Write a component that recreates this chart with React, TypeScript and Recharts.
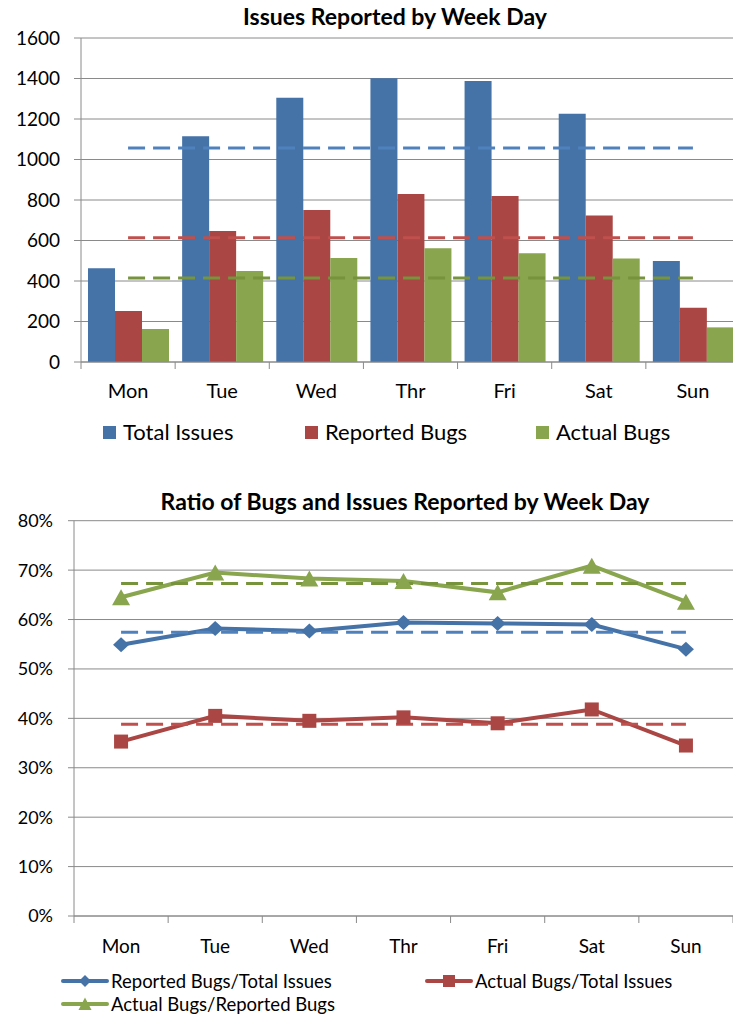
import React from 'react';
import { ComposedChart, Bar, Line, XAxis, YAxis, CartesianGrid, Legend } from 'recharts';

// ---------- data ----------
const days = ['Mon', 'Tue', 'Wed', 'Thr', 'Fri', 'Sat', 'Sun'];
const totalIssues = [463, 1115, 1305, 1401, 1388, 1226, 499];
const reportedBugs = [252, 647, 751, 830, 820, 723, 268];
const actualBugs = [163, 450, 514, 562, 537, 511, 171];
const avgTotalIssues = 1057;
const avgReportedBugs = 613;
const avgActualBugs = 415;
const countTicks = [0, 200, 400, 600, 800, 1000, 1200, 1400, 1600];

const reportedPerTotal = [54.9, 58.2, 57.7, 59.4, 59.2, 59.0, 54.0];
const actualPerTotal = [35.3, 40.5, 39.5, 40.2, 39.0, 41.8, 34.5];
const actualPerReported = [64.5, 69.5, 68.3, 67.8, 65.5, 70.9, 63.6];
const avgReportedPerTotal = 57.4;
const avgActualPerTotal = 38.8;
const avgActualPerReported = 67.3;
const percentTicks = [0, 10, 20, 30, 40, 50, 60, 70, 80];

// ---------- styles ----------
const FONT = "Lato, 'Open Sans', sans-serif";
const GRID = '#8a8a8a';
const BLUE = '#4572A7';
const RED = '#AA4643';
const GREEN = '#89A54E';
const BLUE_D = '#4F81BD';
const RED_D = '#C0504D';
const GREEN_D = '#77933C';

const topData = days.map((day, i) => ({
  day,
  total: totalIssues[i],
  reported: reportedBugs[i],
  actual: actualBugs[i],
  avgTotal: avgTotalIssues,
  avgReported: avgReportedBugs,
  avgActual: avgActualBugs,
}));

const botData = days.map((day, i) => ({
  day,
  rpt: reportedPerTotal[i],
  apt: actualPerTotal[i],
  apr: actualPerReported[i],
  avgRpt: avgReportedPerTotal,
  avgApt: avgActualPerTotal,
  avgApr: avgActualPerReported,
}));

function CatTick(props: any) {
  const { x, y, payload, index, band, labelDy, fontSize, last } = props;
  const half = band / 2;
  return (
    <g>
      <line x1={x - half} x2={x - half} y1={y} y2={y + 7} stroke={GRID} strokeWidth={1} />
      {index === last && <line x1={x + half} x2={x + half} y1={y} y2={y + 7} stroke={GRID} strokeWidth={1} />}
      <text x={x} y={y + labelDy} textAnchor="middle" dominantBaseline="central" fontSize={fontSize} fill="#000" fontFamily={FONT}>
        {payload.value}
      </text>
    </g>
  );
}

const diamondDot = (color: string) => (props: any) => {
  const { cx, cy, index } = props;
  if (cx == null || cy == null) return <g key={`dd${index}`} />;
  return <path key={`dd${index}`} d={`M${cx},${cy - 7.5} L${cx + 8},${cy} L${cx},${cy + 7.5} L${cx - 8},${cy} Z`} fill={color} />;
};
const squareDot = (color: string) => (props: any) => {
  const { cx, cy, index } = props;
  if (cx == null || cy == null) return <g key={`sd${index}`} />;
  return <rect key={`sd${index}`} x={cx - 7} y={cy - 7} width={14} height={14} fill={color} />;
};
const triangleDot = (color: string) => (props: any) => {
  const { cx, cy, index } = props;
  if (cx == null || cy == null) return <g key={`td${index}`} />;
  return <path key={`td${index}`} d={`M${cx},${cy - 8} L${cx + 9},${cy + 8} L${cx - 9},${cy + 8} Z`} fill={color} />;
};

const topLegendItems = [
  { label: 'Total Issues', color: BLUE, left: 103 },
  { label: 'Reported Bugs', color: RED, left: 305 },
  { label: 'Actual Bugs', color: GREEN, left: 536 },
];

function TopLegend() {
  return (
    <div style={{ position: 'relative', width: 733, height: 34, fontFamily: FONT }}>
      {topLegendItems.map((it) => (
        <div key={it.label} style={{ position: 'absolute', left: it.left, top: 0, height: 34, display: 'flex', alignItems: 'center' }}>
          <span style={{ display: 'inline-block', width: 13, height: 13, background: it.color, marginRight: 7 }} />
          <span style={{ fontSize: 22, color: '#000', lineHeight: '34px' }}>{it.label}</span>
        </div>
      ))}
    </div>
  );
}

const botLegendItems = [
  { label: 'Reported Bugs/Total Issues', color: BLUE, left: 61, top: 0, shape: 'diamond' },
  { label: 'Actual Bugs/Total Issues', color: RED, left: 425, top: 0, shape: 'square' },
  { label: 'Actual Bugs/Reported Bugs', color: GREEN, left: 61, top: 23, shape: 'triangle' },
];

function LegendIcon({ color, shape }: { color: string; shape: string }) {
  return (
    <svg width={48} height={16} style={{ display: 'block', marginRight: 2 }}>
      <line x1={2} x2={46} y1={8} y2={8} stroke={color} strokeWidth={4} strokeLinecap="round" />
      {shape === 'diamond' && <path d="M24,2 L30,8 L24,14 L18,8 Z" fill={color} />}
      {shape === 'square' && <rect x={18} y={2} width={12} height={12} fill={color} />}
      {shape === 'triangle' && <path d="M24,1.5 L30.5,14 L17.5,14 Z" fill={color} />}
    </svg>
  );
}

function BotLegend() {
  return (
    <div style={{ position: 'relative', width: 733, height: 50, fontFamily: FONT }}>
      {botLegendItems.map((it) => (
        <div key={it.label} style={{ position: 'absolute', left: it.left, top: it.top, height: 24, display: 'flex', alignItems: 'center' }}>
          <LegendIcon color={it.color} shape={it.shape} />
          <span style={{ fontSize: 18.5, color: '#000', lineHeight: '24px' }}>{it.label}</span>
        </div>
      ))}
    </div>
  );
}

const TOP_W = 760;
const TOP_H = 460;
const TOP_BAND = (TOP_W - 81 - 20) / 7;
const BOT_W = 733;
const BOT_H = 557;
const BOT_BAND = (BOT_W - 74) / 7;

const titleStyle: React.CSSProperties = {
  position: 'absolute',
  fontFamily: FONT,
  fontWeight: 700,
  fontSize: 23,
  color: '#000',
  whiteSpace: 'nowrap',
  transform: 'translate(-50%, -50%)',
};

export default function App() {
  return (
    <div style={{ position: 'absolute', left: 0, top: 0, width: 733, height: 1017, overflow: 'hidden', background: '#fff' }}>
      <div style={{ position: 'absolute', left: 0, top: 0 }}>
        <ComposedChart width={TOP_W} height={TOP_H} data={topData} margin={{ top: 38, right: 20, left: 0, bottom: 68 }} barCategoryGap={7} barGap={0}>
          <CartesianGrid vertical={false} stroke={GRID} strokeWidth={1} />
          <YAxis
            width={81}
            domain={[0, 1600]}
            ticks={countTicks}
            interval={0}
            tickSize={7}
            tickMargin={14}
            axisLine={{ stroke: GRID }}
            tickLine={{ stroke: GRID }}
            tick={{ fontSize: 19, fill: '#000', fontFamily: FONT }}
          />
          <XAxis
            dataKey="day"
            height={30}
            interval={0}
            tickSize={0}
            tickMargin={0}
            tickLine={false}
            axisLine={{ stroke: GRID }}
            tick={<CatTick band={TOP_BAND} labelDy={28} fontSize={20} last={days.length - 1} />}
          />
          <Bar dataKey="total" name="Total Issues" fill={BLUE} isAnimationActive={false} />
          <Bar dataKey="reported" name="Reported Bugs" fill={RED} isAnimationActive={false} />
          <Bar dataKey="actual" name="Actual Bugs" fill={GREEN} isAnimationActive={false} />
          <Line dataKey="avgTotal" stroke={BLUE_D} strokeWidth={3} strokeDasharray="17 8" dot={false} activeDot={false} legendType="none" isAnimationActive={false} />
          <Line dataKey="avgReported" stroke={RED_D} strokeWidth={3} strokeDasharray="17 8" dot={false} activeDot={false} legendType="none" isAnimationActive={false} />
          <Line dataKey="avgActual" stroke={GREEN_D} strokeWidth={3} strokeDasharray="17 8" dot={false} activeDot={false} legendType="none" isAnimationActive={false} />
          <Legend layout="horizontal" verticalAlign="middle" align="center" wrapperStyle={{ top: 415, left: 0, width: 733 }} content={() => <TopLegend />} />
        </ComposedChart>
      </div>
      <div style={{ ...titleStyle, left: 395, top: 16 }}>Issues Reported by Week Day</div>

      <div style={{ position: 'absolute', left: 0, top: 460 }}>
        <ComposedChart width={BOT_W} height={BOT_H} data={botData} margin={{ top: 60.7, right: 0, left: 0, bottom: 71 }}>
          <CartesianGrid vertical={false} stroke={GRID} strokeWidth={1} />
          <YAxis
            width={74}
            domain={[0, 80]}
            ticks={percentTicks}
            interval={0}
            tickSize={6}
            tickMargin={15}
            tickFormatter={(v: number) => `${v}%`}
            axisLine={{ stroke: GRID }}
            tickLine={{ stroke: GRID }}
            tick={{ fontSize: 18, fill: '#000', fontFamily: FONT }}
          />
          <XAxis
            dataKey="day"
            scale="band"
            height={30}
            interval={0}
            tickSize={0}
            tickMargin={0}
            tickLine={false}
            axisLine={{ stroke: GRID }}
            tick={<CatTick band={BOT_BAND} labelDy={29} fontSize={19} last={days.length - 1} />}
          />
          <Line dataKey="rpt" name="Reported Bugs/Total Issues" stroke={BLUE} strokeWidth={4} dot={diamondDot(BLUE)} activeDot={false} isAnimationActive={false} />
          <Line dataKey="apt" name="Actual Bugs/Total Issues" stroke={RED} strokeWidth={4} dot={squareDot(RED)} activeDot={false} isAnimationActive={false} />
          <Line dataKey="apr" name="Actual Bugs/Reported Bugs" stroke={GREEN} strokeWidth={4} dot={triangleDot(GREEN)} activeDot={false} isAnimationActive={false} />
          <Line dataKey="avgRpt" stroke={BLUE_D} strokeWidth={3} strokeDasharray="17 8" dot={false} activeDot={false} legendType="none" isAnimationActive={false} />
          <Line dataKey="avgApt" stroke={RED_D} strokeWidth={3} strokeDasharray="17 8" dot={false} activeDot={false} legendType="none" isAnimationActive={false} />
          <Line dataKey="avgApr" stroke={GREEN_D} strokeWidth={3} strokeDasharray="17 8" dot={false} activeDot={false} legendType="none" isAnimationActive={false} />
          <Legend layout="horizontal" verticalAlign="middle" align="center" wrapperStyle={{ top: 509, left: 0, width: 733 }} content={() => <BotLegend />} />
        </ComposedChart>
      </div>
      <div style={{ ...titleStyle, left: 405, top: 501 }}>Ratio of Bugs and Issues Reported by Week Day</div>
    </div>
  );
}
